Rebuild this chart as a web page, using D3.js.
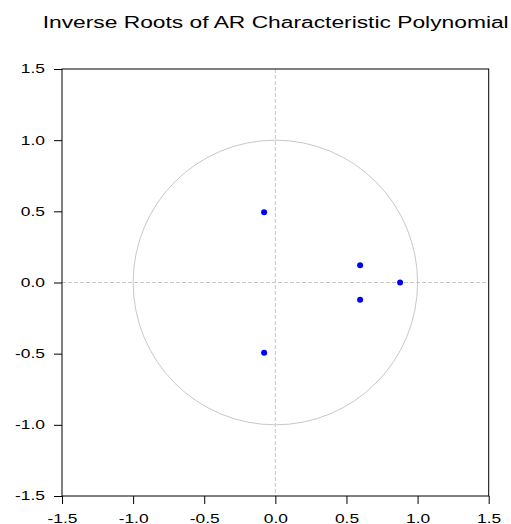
<!DOCTYPE html>
<html>
<head>
<meta charset="utf-8">
<script src="https://cdn.jsdelivr.net/npm/d3@7"></script>
<style>
body { margin: 0; background: #fff; }
svg { display: block; }
text { font-family: "Liberation Sans", Arial, sans-serif; fill: #000; }
</style>
</head>
<body>
<svg width="511" height="524"></svg>
<script>
// inverse roots (real, imaginary)
var rootsRe = [-0.079, 0.596, 0.877, 0.596, -0.079];
var rootsIm = [0.493, 0.122, 0.0, -0.122, -0.493];
var tickVals = [-1.5, -1.0, -0.5, 0.0, 0.5, 1.0, 1.5];
var title = "Inverse Roots of AR Characteristic Polynomial";

var svg = d3.select("svg");
var plotL = 62, plotT = 69, plotR = 488.7, plotB = 496;
var sx = 1.45; // labels are stretched wide in the original

var x = d3.scaleLinear().domain([-1.5, 1.5]).range([plotL, plotR]);
var y = d3.scaleLinear().domain([-1.5, 1.5]).range([plotB, plotT]);

svg.append("text")
  .attr("x", 42.7)
  .attr("y", 28)
  .attr("font-size", 16)
  .attr("textLength", 466)
  .attr("lengthAdjust", "spacingAndGlyphs")
  .text(title);

// unit circle
svg.append("ellipse")
  .attr("cx", x(0))
  .attr("cy", y(0))
  .attr("rx", x(1) - x(0))
  .attr("ry", y(0) - y(1))
  .attr("fill", "none")
  .attr("stroke", "#c8c8c8")
  .attr("stroke-width", 1);

// zero lines
svg.append("line")
  .attr("x1", x(0)).attr("x2", x(0))
  .attr("y1", plotT).attr("y2", plotB)
  .attr("stroke", "#c8c8c8")
  .attr("stroke-dasharray", "4,2");
svg.append("line")
  .attr("x1", plotL).attr("x2", plotR)
  .attr("y1", y(0)).attr("y2", y(0))
  .attr("stroke", "#c8c8c8")
  .attr("stroke-dasharray", "4,2");

// frame
svg.append("rect")
  .attr("x", plotL).attr("y", plotT)
  .attr("width", plotR - plotL).attr("height", plotB - plotT)
  .attr("fill", "none")
  .attr("stroke", "#000")
  .attr("stroke-width", 1);

var fmt = (d) => d3.format(".1f")(d).replace("\u2212", "-");

var gy = svg.append("g")
  .attr("transform", "translate(" + plotL + ",0)")
  .call(d3.axisLeft(y).tickValues(tickVals).tickFormat(fmt).tickSize(8).tickSizeOuter(0));
gy.selectAll("text")
  .attr("font-size", 12)
  .attr("font-family", "Liberation Sans, Arial, sans-serif")
  .attr("x", -17 / sx)
  .attr("dy", "0.32em")
  .attr("transform", "scale(" + sx + ",1)");

var gx = svg.append("g")
  .attr("transform", "translate(0," + plotB + ")")
  .call(d3.axisBottom(x).tickValues(tickVals).tickFormat(fmt).tickSize(8).tickSizeOuter(0));
gx.selectAll("text")
  .attr("font-size", 12)
  .attr("font-family", "Liberation Sans, Arial, sans-serif")
  .attr("y", 27.5)
  .attr("dy", 0)
  .attr("transform", "scale(" + sx + ",1)");

svg.selectAll(".domain").remove();
svg.selectAll(".tick line").attr("stroke", "#000");

svg.selectAll(".root")
  .data(rootsRe)
  .enter()
  .append("circle")
  .attr("class", "root")
  .attr("cx", (d) => x(d))
  .attr("cy", (d, i) => y(rootsIm[i]))
  .attr("r", 3)
  .attr("fill", "#0000ff");
</script>
</body>
</html>
